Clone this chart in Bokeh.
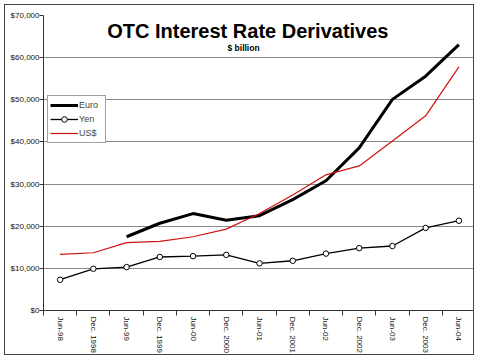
import numpy as np
from math import pi
from bokeh.plotting import figure
from bokeh.models import (Range1d, FixedTicker,
                          NumeralTickFormatter, Legend, LegendItem, Label, ColumnDataSource)
from bokeh.embed import file_html
from bokeh.resources import INLINE

cats = ["Jun-98", "Dec. 1998", "Jun-99", "Dec. 1999", "Jun-00", "Dec. 2000", "Jun-01",
        "Dec. 2001", "Jun-02", "Dec. 2002", "Jun-03", "Dec. 2003", "Jun-04"]
euro = [np.nan, np.nan, 17500, 20700, 23000, 21400, 22500, 26300, 30800, 38600, 50100, 55600, 63100]
yen = [7300, 9900, 10300, 12700, 12900, 13200, 11200, 11800, 13500, 14800, 15300, 19600, 21300]
usd = [13300, 13700, 16100, 16400, 17500, 19300, 23000, 27400, 32200, 34300, 40200, 46200, 57800]
y_ticks = [0, 10000, 20000, 30000, 40000, 50000, 60000, 70000]

n = len(cats)
xpos = [i + 0.5 for i in range(n)]  # category centres on a 0..n axis
bounds = list(range(n + 1))         # category boundaries (tick marks)
src = ColumnDataSource(dict(x=xpos, cat=cats, euro=euro, yen=yen, usd=usd))

FONT = "Liberation Sans"

p = figure(width=470, height=351, output_backend="svg", toolbar_location=None,
           x_range=Range1d(0, n), y_range=Range1d(0, 70000),
           min_border_left=38, min_border_right=0, min_border_top=10, min_border_bottom=46)
p.margin = (4, 4, 0, 4)
p.styles = {"border": "1px solid #444444"}
p.outline_line_color = None
p.background_fill_color = "white"
p.border_fill_color = "white"

# y axis
ya = p.yaxis[0]
ya.ticker = FixedTicker(ticks=y_ticks)
ya.formatter = NumeralTickFormatter(format="$0,0")
ya.major_tick_out = 4
ya.major_tick_in = 0
ya.minor_tick_line_color = None
ya.major_label_standoff = 0
ya.major_label_text_font = FONT
ya.major_label_text_font_size = "8px"
ya.major_label_text_color = "#111111"
ya.axis_line_color = "#333333"
ya.major_tick_line_color = "#333333"

p.xgrid.visible = False
p.ygrid.grid_line_color = "#8a8a8a"
p.ygrid.ticker = FixedTicker(ticks=y_ticks)

# x axis: labels at category centres, tick marks at category boundaries
xa = p.xaxis[0]
xa.ticker = FixedTicker(ticks=xpos, minor_ticks=bounds)
xa.major_label_overrides = {x: c for x, c in zip(xpos, cats)}
xa.major_tick_line_color = None
xa.minor_tick_line_color = "#333333"
xa.minor_tick_out = 5
xa.minor_tick_in = 0
xa.major_tick_out = 5
xa.major_tick_in = 0
xa.axis_line_color = "#333333"
xa.major_label_orientation = -pi / 2
xa.major_label_standoff = 1
xa.major_label_text_font = FONT
xa.major_label_text_font_size = "8px"
xa.major_label_text_color = "#111111"

r_euro = p.line("x", "euro", source=src, line_color="black", line_width=3)
r_yen = p.line("x", "yen", source=src, line_color="black", line_width=1.3)
r_yen_m = p.scatter("x", "yen", source=src, marker="circle", size=5.5,
                    line_color="black", line_width=1, fill_color="white")
r_usd = p.line("x", "usd", source=src, line_color="#d01010", line_width=1.2)

legend = Legend(items=[LegendItem(label="Euro", renderers=[r_euro]),
                       LegendItem(label="Yen", renderers=[r_yen, r_yen_m]),
                       LegendItem(label="US$", renderers=[r_usd])],
                location=(4, 167), orientation="vertical",
                glyph_width=28, glyph_height=14, label_standoff=1, padding=2, spacing=0,
                margin=0, label_text_font=FONT, label_text_font_size="9px",
                label_height=14, label_width=24,
                border_line_color="#444444", border_line_width=1,
                background_fill_color="white", background_fill_alpha=1)
p.add_layout(legend)

p.add_layout(Label(x=6.15, y=66300, text="OTC Interest Rate Derivatives",
                   text_align="center", text_baseline="middle", text_font=FONT,
                   text_font_style="bold", text_font_size="20px", text_color="black"))
p.add_layout(Label(x=6.02, y=62400, text="$ billion",
                   text_align="center", text_baseline="middle", text_font=FONT,
                   text_font_style="bold", text_font_size="8.5px", text_color="black"))

open("out.html", "w").write(file_html(p, INLINE))
